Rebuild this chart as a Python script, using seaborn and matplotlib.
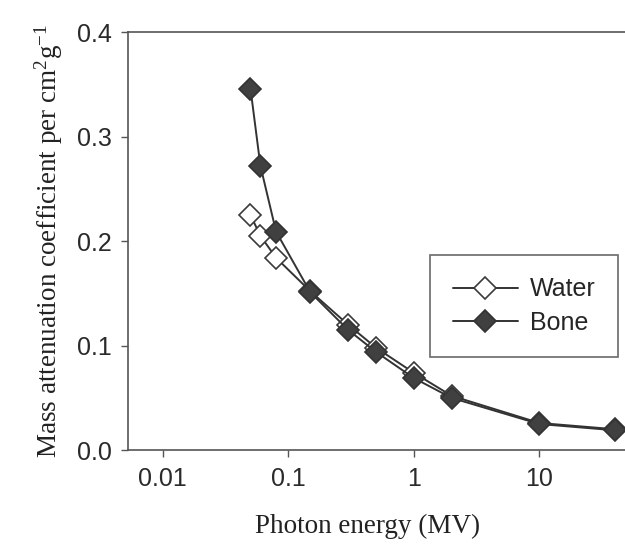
import numpy as np
import pandas as pd
import matplotlib.pyplot as plt
import matplotlib.ticker as mticker
import seaborn as sns

# photon energy (MV) and mass attenuation coefficients (cm^2/g)
energy = [0.05, 0.06, 0.08, 0.15, 0.3, 0.5, 1, 2, 10, 40]
water = [0.225, 0.205, 0.184, 0.152, 0.120, 0.098, 0.074, 0.052, 0.026, 0.020]
bone = [0.346, 0.272, 0.209, 0.151, 0.115, 0.094, 0.069, 0.050, 0.025, 0.019]

x_ticks = [0.01, 0.1, 1, 10]
x_tick_labels = ["0.01", "0.1", "1", "10"]
y_ticks = [0.0, 0.1, 0.2, 0.3, 0.4]

df = pd.DataFrame({
    "energy": energy * 2,
    "mu": water + bone,
    "tissue": ["Water"] * len(water) + ["Bone"] * len(bone),
})

sns.set_style("ticks")
plt.rcParams["font.family"] = ["Liberation Sans", "DejaVu Sans"]
plt.rcParams["mathtext.fontset"] = "custom"
plt.rcParams["mathtext.rm"] = "Liberation Serif"
plt.rcParams["mathtext.it"] = "Liberation Serif:italic"
plt.rcParams["mathtext.default"] = "regular"

fig = plt.figure(figsize=(6.25, 5.53), dpi=100)
ax = fig.add_axes([0.205, 0.186, 0.80, 0.756])

styles = {
    "Water": dict(markerfacecolor="white", markeredgecolor="#3a3a3a"),
    "Bone": dict(markerfacecolor="#404040", markeredgecolor="#333333"),
}
for name in ["Water", "Bone"]:
    sub = df[df["tissue"] == name]
    sns.lineplot(data=sub, x="energy", y="mu", ax=ax, label=name,
                 color="#333333", linewidth=1.4, marker="D", markersize=11,
                 markeredgewidth=1.2, **styles[name])

ax.set_xscale("log")
ax.set_xlim(0.0053, 51)
ax.set_ylim(0, 0.4)
ax.set_xticks(x_ticks)
ax.xaxis.set_major_formatter(mticker.FixedFormatter(x_tick_labels))
ax.xaxis.set_minor_locator(mticker.NullLocator())
ax.set_yticks(y_ticks)
ax.yaxis.set_major_formatter(mticker.FormatStrFormatter("%.1f"))
ax.tick_params(axis="both", labelsize=18, length=5, width=1, color="#555555",
               labelcolor="#2a2a2a", pad=7)

for side in ["left", "top", "bottom"]:
    ax.spines[side].set_color("#555555")
    ax.spines[side].set_linewidth(1.2)
ax.spines["right"].set_visible(False)

ax.set_xlabel("Photon energy (MV)", family="Liberation Serif", fontsize=19.5,
              color="#222222")
ax.xaxis.set_label_coords(0.478, -0.152)
ax.set_ylabel("Mass attenuation coefficient per cm$^{2}$g$^{-1}$",
              family="Liberation Serif", fontsize=19.5, color="#222222",
              labelpad=8)

leg = ax.legend(loc="upper left", bbox_to_anchor=(0.604, 0.467), fontsize=18,
                frameon=True, fancybox=False, edgecolor="#444444",
                handlelength=2.6, handletextpad=0.5, borderpad=0.9,
                labelspacing=0.38, borderaxespad=0)
leg.get_frame().set_linewidth(1.2)

fig.savefig("out.png", dpi=100)
